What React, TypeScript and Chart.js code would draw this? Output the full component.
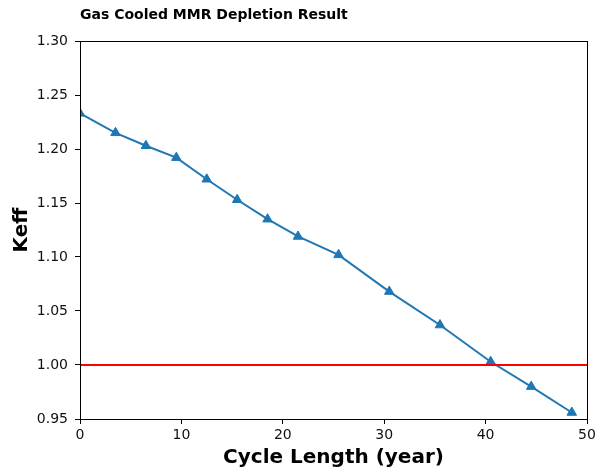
import React, { useEffect, useRef } from "react";
import { Chart, registerables } from "chart.js";

Chart.register(...registerables);

const cycleYears = [0, 3.5, 6.5, 9.5, 12.5, 15.5, 18.5, 21.5, 25.5, 30.5, 35.5, 40.5, 44.5, 48.5];
const keffValues = [1.233, 1.215, 1.203, 1.192, 1.172, 1.153, 1.135, 1.119, 1.102, 1.068, 1.037, 1.003, 0.98, 0.956];
const criticalX = [0, 50];
const criticalY = [1.0, 1.0];

const FONT = "'DejaVu Sans', sans-serif";

const framePlugin = {
  id: "frame",
  afterDatasetsDraw(chart: any) {
    const { ctx, chartArea } = chart;
    ctx.save();
    ctx.strokeStyle = "#000";
    ctx.lineWidth = 1;
    ctx.strokeRect(
      Math.round(chartArea.left) + 0.5,
      Math.round(chartArea.top) + 0.5,
      Math.round(chartArea.right - chartArea.left),
      Math.round(chartArea.bottom - chartArea.top)
    );
    ctx.restore();
  },
};

export default function App() {
  const ref = useRef<HTMLCanvasElement | null>(null);
  useEffect(() => {
    document.body.style.margin = "0";
    const canvas = ref.current!;
    const chart = new Chart(canvas, {
      type: "line",
      data: {
        datasets: [
          {
            label: "Keff = 1",
            data: criticalX.map((x, i) => ({ x, y: criticalY[i] })),
            borderColor: "#ff0000",
            borderWidth: 2,
            pointRadius: 0,
            order: 0,
          },
          {
            label: "Keff",
            data: cycleYears.map((x, i) => ({ x, y: keffValues[i] })),
            borderColor: "#1f77b4",
            backgroundColor: "#1f77b4",
            borderWidth: 2,
            pointStyle: "triangle",
            pointRadius: 5.5,
            pointBorderWidth: 1,
            order: 1,
            clip: 0,
          },
        ],
      },
      options: {
        responsive: false,
        animation: false,
        layout: { padding: { left: 0, right: 13, top: 0, bottom: 0 } },
        plugins: {
          legend: { display: false },
          tooltip: { enabled: false },
          title: {
            display: true,
            text: "Gas Cooled MMR Depletion Result",
            align: "start",
            fullSize: false,
            color: "#000",
            font: { family: FONT, size: 14, weight: "bold" },
            padding: { top: 7, bottom: 17.2 },
          },
        },
        scales: {
          x: {
            type: "linear",
            min: 0,
            max: 50,
            ticks: {
              stepSize: 10,
              color: "#111",
              font: { family: FONT, size: 14 },
              padding: 3,
              maxRotation: 0,
            },
            grid: { drawOnChartArea: false, drawTicks: true, tickLength: 5, color: "#000" },
            border: { display: true, color: "#000", width: 1 },
            title: {
              display: true,
              text: "Cycle Length (year)",
              color: "#000",
              font: { family: FONT, size: 20, weight: "bold" },
              padding: { top: 0, bottom: 0 },
            },
            afterFit(s: any) {
              s.height = 51;
            },
          },
          y: {
            type: "linear",
            min: 0.95,
            max: 1.3,
            ticks: {
              stepSize: 0.05,
              color: "#111",
              font: { family: FONT, size: 14 },
              padding: 7,
              callback: (v: any) => Number(v).toFixed(2),
            },
            grid: { drawOnChartArea: false, drawTicks: true, tickLength: 5, color: "#000" },
            border: { display: true, color: "#000", width: 1 },
            title: {
              display: true,
              text: "Keff",
              color: "#000",
              font: { family: FONT, size: 20, weight: "bold" },
              padding: { top: 10, bottom: 0 },
            },
            afterFit(s: any) {
              s.width = 80;
            },
          },
        },
      },
      plugins: [framePlugin],
    });
    return () => chart.destroy();
  }, []);
  return (
    <div style={{ width: 600, height: 470 }}>
      <canvas ref={ref} width={600} height={470} style={{ width: 600, height: 470 }} />
    </div>
  );
}
